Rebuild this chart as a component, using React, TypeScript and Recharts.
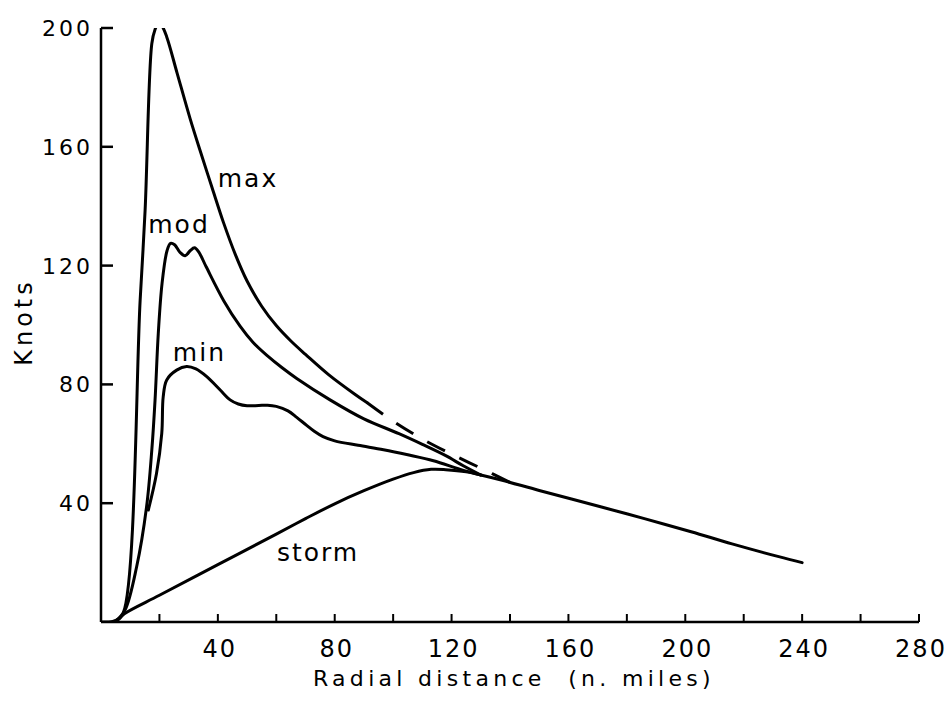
import React from 'react';
import { LineChart, Line, XAxis, YAxis, ReferenceDot } from 'recharts';

// ---- axis ticks ----
const xTicks = [0, 20, 40, 60, 80, 100, 120, 140, 160, 180, 200, 220, 240, 260, 280];
const xTickLabels = [40, 80, 120, 160, 200, 240, 280];
const yTicks = [40, 80, 120, 160, 200];

// ---- series (r = radial distance, n. miles; v = knots) ----
const stormCurve = [
  { r: 0, v: 0 }, { r: 4, v: 0.2 }, { r: 6, v: 1 }, { r: 8, v: 2.8 }, { r: 20, v: 9 },
  { r: 40, v: 19.3 }, { r: 60, v: 29.6 }, { r: 70, v: 34.8 }, { r: 80, v: 39.8 },
  { r: 90, v: 44.2 }, { r: 100, v: 48.1 }, { r: 107, v: 50.3 }, { r: 113, v: 51.4 },
  { r: 118, v: 51.3 }, { r: 125, v: 50.6 }, { r: 130, v: 49.5 }, { r: 137, v: 47.8 },
  { r: 150, v: 44.3 }, { r: 171, v: 38.8 }, { r: 186, v: 34.8 }, { r: 202, v: 30.4 },
  { r: 216, v: 26.3 }, { r: 232, v: 22 }, { r: 240, v: 20 },
];

const maxSolid = [
  { r: 5, v: 0.3 }, { r: 7.6, v: 3 }, { r: 13.4, v: 108.4 }, { r: 15.1, v: 138.7 },
  { r: 17.4, v: 194.8 }, { r: 18.5, v: 199.5 }, { r: 19.6, v: 201.6 }, { r: 20.8, v: 200.8 },
  { r: 22.5, v: 197 }, { r: 26, v: 185 }, { r: 30.5, v: 169.5 }, { r: 34, v: 158.5 },
  { r: 38, v: 146.3 }, { r: 42, v: 134.3 }, { r: 46, v: 123.7 }, { r: 50, v: 114.8 },
  { r: 55, v: 106.3 }, { r: 60, v: 99.8 }, { r: 65, v: 94.6 }, { r: 70, v: 90.1 },
  { r: 78, v: 83.2 }, { r: 87, v: 76.6 }, { r: 91, v: 73.9 },
];

const maxDashed = [
  { r: 91, v: 73.9 }, { r: 100, v: 67.6 }, { r: 110, v: 61.6 }, { r: 120, v: 56.5 },
  { r: 130, v: 51.8 }, { r: 140, v: 47 },
];

const modCurve = [
  { r: 5, v: 0.3 }, { r: 8.2, v: 4 }, { r: 12.2, v: 18.6 }, { r: 15.6, v: 38.8 },
  { r: 17.4, v: 58 }, { r: 18.5, v: 74.7 }, { r: 19.6, v: 97 }, { r: 20.9, v: 114 },
  { r: 22.6, v: 125 }, { r: 23.8, v: 127.5 }, { r: 25.2, v: 127 }, { r: 27, v: 124.5 },
  { r: 28.8, v: 123.3 }, { r: 30.5, v: 125 }, { r: 32, v: 126 }, { r: 33.5, v: 124.5 },
  { r: 36, v: 119.6 }, { r: 42, v: 108.2 }, { r: 47.6, v: 99.6 }, { r: 52, v: 94.2 },
  { r: 57, v: 89.6 }, { r: 62, v: 85.6 }, { r: 67, v: 82 }, { r: 78.4, v: 74.8 },
  { r: 90, v: 68.4 }, { r: 102, v: 63.4 }, { r: 110, v: 59.8 }, { r: 118, v: 56 },
  { r: 124, v: 52.6 }, { r: 130, v: 49.5 },
];

const minCurve = [
  { r: 16.2, v: 37.7 }, { r: 19, v: 50 }, { r: 20.8, v: 63.5 }, { r: 21.3, v: 75.9 },
  { r: 22.5, v: 81.5 }, { r: 25.9, v: 84.8 }, { r: 29.3, v: 86 }, { r: 32.5, v: 85.2 },
  { r: 36.2, v: 82.6 }, { r: 40.8, v: 78.1 }, { r: 44.2, v: 74.8 }, { r: 47, v: 73.4 },
  { r: 50, v: 72.8 }, { r: 54, v: 72.9 }, { r: 57, v: 73 }, { r: 60, v: 72.6 },
  { r: 64, v: 71.1 }, { r: 67, v: 68.9 }, { r: 70.4, v: 66.2 }, { r: 73, v: 64.2 },
  { r: 76, v: 62.4 }, { r: 80, v: 61 }, { r: 88, v: 59.5 }, { r: 96.7, v: 58 },
  { r: 105, v: 56.3 }, { r: 113.8, v: 54.3 }, { r: 123, v: 51.4 }, { r: 130, v: 49.5 },
];

const curveLabels = [
  { name: 'max', r: 50.3, v: 149.3 },
  { name: 'mod', r: 26.7, v: 134 },
  { name: 'min', r: 33.7, v: 90.9 },
  { name: 'storm', r: 74.3, v: 23.6 },
];

const FONT = '"DejaVu Sans", sans-serif';

// centripetal Catmull-Rom curve factory (smooth curve through every point)
function centripetal(context: any) {
  let pts: number[][] = [];
  return {
    areaStart() {},
    areaEnd() {},
    lineStart() { pts = []; },
    point(x: number, y: number) { pts.push([+x, +y]); },
    lineEnd() {
      const n = pts.length;
      if (n === 0) return;
      context.moveTo(pts[0][0], pts[0][1]);
      if (n === 1) return;
      for (let i = 0; i < n - 1; i++) {
        const p0 = pts[i - 1];
        const p1 = pts[i];
        const p2 = pts[i + 1];
        const p3 = pts[i + 2];
        const l12 = Math.hypot(p2[0] - p1[0], p2[1] - p1[1]);
        const l12a = Math.sqrt(l12);
        let c1 = p1;
        let c2 = p2;
        if (p0) {
          const l01 = Math.hypot(p1[0] - p0[0], p1[1] - p0[1]);
          const l01a = Math.sqrt(l01);
          if (l01a > 1e-6) {
            const a = 2 * l01 + 3 * l01a * l12a + l12;
            const nn = 3 * l01a * (l01a + l12a);
            c1 = [
              (p1[0] * a - p0[0] * l12 + p2[0] * l01) / nn,
              (p1[1] * a - p0[1] * l12 + p2[1] * l01) / nn,
            ];
          }
        }
        if (p3) {
          const l23 = Math.hypot(p3[0] - p2[0], p3[1] - p2[1]);
          const l23a = Math.sqrt(l23);
          if (l23a > 1e-6) {
            const b = 2 * l23 + 3 * l23a * l12a + l12;
            const m = 3 * l23a * (l23a + l12a);
            c2 = [
              (p2[0] * b + p1[0] * l23 - p3[0] * l12) / m,
              (p2[1] * b + p1[1] * l23 - p3[1] * l12) / m,
            ];
          }
        }
        context.bezierCurveTo(c1[0], c1[1], c2[0], c2[1], p2[0], p2[1]);
      }
    },
  };
}

const XTick = (props: any) => {
  const { x, y, payload } = props;
  const v = payload.value;
  return (
    <g>
      {v > 0 && <line x1={x} x2={x} y1={y} y2={y - 8} stroke="#000" strokeWidth={2} />}
      {xTickLabels.includes(v) && (
        <text x={x + 2} y={y + 35} textAnchor="middle" fill="#000" fontSize={24}
          fontFamily={FONT} letterSpacing={2}>{v}</text>
      )}
    </g>
  );
};

const YTick = (props: any) => {
  const { x, y, payload } = props;
  return (
    <g>
      <line x1={x} x2={x + 12} y1={y} y2={y} stroke="#000" strokeWidth={2.5} />
      <text x={x - 8} y={y} dy="0.36em" textAnchor="end" fill="#000" fontSize={22}
        fontFamily={FONT} letterSpacing={3}>{payload.value}</text>
    </g>
  );
};

const XTitle = (props: any) => {
  const vb = props.viewBox;
  return (
    <text x={vb.x + vb.width / 2 + 4} y={vb.y + 64} textAnchor="middle" fill="#000"
      fontSize={22} fontFamily={FONT} letterSpacing={4.3} style={{ whiteSpace: 'pre' }}>
      {'Radial distance  (n. miles)'}
    </text>
  );
};

const YTitle = (props: any) => {
  const vb = props.viewBox;
  const cx = vb.x + 24;
  const cy = vb.y + vb.height / 2 - 3;
  return (
    <text x={cx} y={cy} textAnchor="middle" dominantBaseline="central" fill="#000"
      fontSize={24} fontFamily={FONT} letterSpacing={4}
      transform={`rotate(-90, ${cx}, ${cy})`}>Knots</text>
  );
};

const lineProps = {
  type: centripetal as any,
  dataKey: 'v',
  stroke: '#000',
  strokeWidth: 3,
  dot: false,
  activeDot: false,
  isAnimationActive: false,
  strokeLinecap: 'round' as const,
  strokeLinejoin: 'round' as const,
};

export default function App() {
  return (
    <div style={{ position: 'absolute', left: 0, top: 0, background: '#fff' }}>
      <LineChart width={951} height={701} margin={{ top: 28, right: 32, bottom: 0, left: 0 }}>
        <XAxis
          dataKey="r"
          type="number"
          domain={[0, 280]}
          ticks={xTicks}
          interval={0}
          tickSize={0}
          tickMargin={0}
          tickLine={false}
          tick={XTick}
          axisLine={{ stroke: '#000', strokeWidth: 2.5 }}
          height={79}
          allowDataOverflow
          label={XTitle}
        />
        <YAxis
          type="number"
          domain={[0, 200]}
          ticks={yTicks}
          interval={0}
          tickSize={0}
          tickMargin={0}
          tickLine={false}
          tick={YTick}
          axisLine={{ stroke: '#000', strokeWidth: 2.5 }}
          width={101}
          allowDataOverflow
          label={YTitle}
        />
        <Line {...lineProps} data={stormCurve} />
        <Line {...lineProps} data={maxSolid} />
        <Line {...lineProps} data={maxDashed} strokeDasharray="20 16" strokeLinecap="butt" />
        <Line {...lineProps} data={modCurve} />
        <Line {...lineProps} data={minCurve} />
        {curveLabels.map((c) => (
          <ReferenceDot key={c.name} x={c.r} y={c.v} r={0} stroke="none" fill="none"
            label={{ value: c.name, position: 'center', fill: '#000', fontSize: 25,
              fontFamily: FONT, letterSpacing: 2 }} />
        ))}
      </LineChart>
    </div>
  );
}
